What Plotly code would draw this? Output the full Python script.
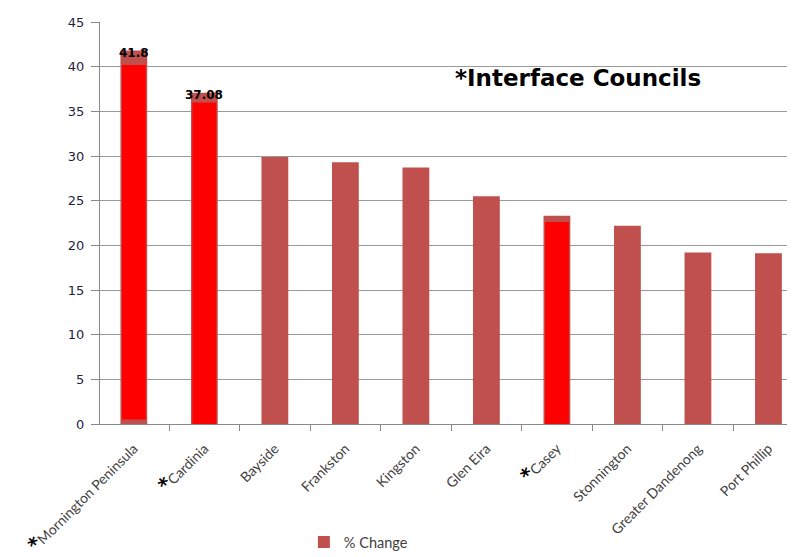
import plotly.graph_objects as go

councils = ["Mornington Peninsula", "Cardinia", "Bayside", "Frankston", "Kingston",
            "Glen Eira", "Casey", "Stonnington", "Greater Dandenong", "Port Phillip"]
pct_change = [41.8, 37.08, 29.9, 29.3, 28.7, 25.5, 23.3, 22.2, 19.2, 19.1]
interface = [True, True, False, False, False, False, True, False, False, False]
# red highlight overlays drawn over the interface councils' bars
highlight_cats = ["Mornington Peninsula", "Cardinia", "Casey"]
highlight_top = [40.2, 36.0, 22.6]
highlight_base = [0.5, 0.0, 0.0]
labelled = ["Mornington Peninsula", "Cardinia"]

ticktext = []
for c, f in zip(councils, interface):
    if f:
        ticktext.append("<span style='font-family:DejaVu Sans;font-size:20px;font-weight:bold;color:#000000'>*</span>" + c)
    else:
        ticktext.append(c)

fig = go.Figure()
fig.add_trace(go.Bar(
    x=councils, y=pct_change, name="% Change",
    marker=dict(color="#C0504D", line=dict(width=0)),
    width=0.38,
))
fig.add_trace(go.Bar(
    x=highlight_cats,
    y=[t - b for t, b in zip(highlight_top, highlight_base)],
    base=highlight_base,
    marker=dict(color="#FF0000", line=dict(width=0)),
    width=0.34, showlegend=False, hoverinfo="skip",
))

for c in labelled:
    v = pct_change[councils.index(c)]
    fig.add_annotation(x=c, y=v, text="<b>%s</b>" % v, showarrow=False,
                       yanchor="middle", xanchor="center", yshift=-2,
                       font=dict(family="DejaVu Sans", size=12, color="#000000"))

fig.add_annotation(xref="paper", yref="paper", x=0.502, y=0.861,
                   text="<b>*Interface Councils</b>", showarrow=False,
                   xanchor="left", yanchor="middle",
                   font=dict(family="DejaVu Sans", size=23, color="#000000"))

fig.update_layout(
    width=795, height=557,
    margin=dict(l=92, r=0, t=14, b=141),
    paper_bgcolor="white", plot_bgcolor="white",
    barmode="overlay",
    showlegend=True,
    legend=dict(orientation="h", x=0.29, y=-0.2935, xanchor="left", yanchor="middle",
                font=dict(family="Lato", size=14.5, color="#404040"),
                itemwidth=30),
    xaxis=dict(
        tickmode="array", tickvals=councils, ticktext=ticktext,
        tickangle=-45, tickson="boundaries", ticks="outside", ticklen=6,
        tickcolor="#888888", showline=True, linecolor="#888888", linewidth=1,
        range=[-0.48, 9.49], showgrid=False, ticklabelstandoff=10, automargin=False,
        tickfont=dict(family="Lato", size=14, color="#404040"),
    ),
    yaxis=dict(
        range=[0, 45], dtick=5, ticks="outside", ticklen=8, tickcolor="#888888",
        showline=True, linecolor="#888888", linewidth=1, ticklabelstandoff=4,
        automargin=False,
        showgrid=True, gridcolor="#999999", gridwidth=1, zeroline=False,
        tickfont=dict(family="DejaVu Sans", size=13, color="#1F1F3F"),
    ),
)

fig.write_html("out.html")
